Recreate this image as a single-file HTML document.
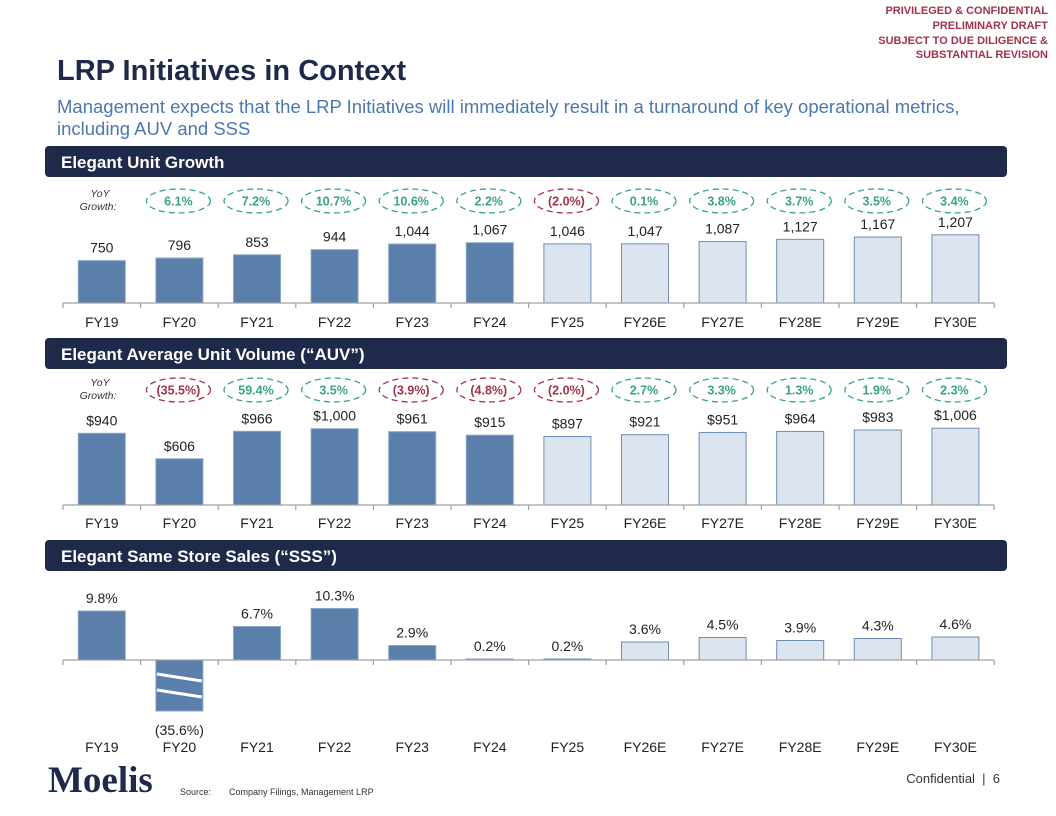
<!DOCTYPE html>
<html><head><meta charset="utf-8"><style>
body{margin:0;width:1056px;height:816px;background:#fff;overflow:hidden;font-family:"Liberation Sans",sans-serif}
svg{display:block}
</style></head><body>
<svg id="s" width="1056" height="816" xmlns="http://www.w3.org/2000/svg" font-family="Liberation Sans, sans-serif">
<g fill="#a2334a" font-size="11" font-weight="bold" text-anchor="end">
<text x="1048" y="14">PRIVILEGED &amp; CONFIDENTIAL</text>
<text x="1048" y="29">PRELIMINARY DRAFT</text>
<text x="1048" y="44">SUBJECT TO DUE DILIGENCE &amp;</text>
<text x="1048" y="58">SUBSTANTIAL REVISION</text>
</g>
<text x="57" y="80" font-size="29" font-weight="bold" fill="#1f2a4a">LRP Initiatives in Context</text>
<g fill="#4a78b0" font-size="18.5">
<text x="57" y="113">Management expects that the LRP Initiatives will immediately result in a turnaround of key operational metrics,</text>
<text x="57" y="135">including AUV and SSS</text>
</g>
<g id="charts"></g>
<text x="48" y="792" font-family="Liberation Serif, serif" font-size="37" font-weight="bold" fill="#1f2a4a">Moelis</text>
<text x="180" y="795" font-size="9" fill="#333">Source:</text>
<text x="229" y="795" font-size="9" fill="#333">Company Filings, Management LRP</text>
<text x="1000" y="783" font-size="13" fill="#333" text-anchor="end" xml:space="preserve">Confidential  |  6</text>
</svg>
<script>
const categories=["FY19","FY20","FY21","FY22","FY23","FY24","FY25","FY26E","FY27E","FY28E","FY29E","FY30E"];
const unitValues=[750,796,853,944,1044,1067,1046,1047,1087,1127,1167,1207];
const unitGrowth=[6.1,7.2,10.7,10.6,2.2,-2.0,0.1,3.8,3.7,3.5,3.4];
const auvValues=[940,606,966,1000,961,915,897,921,951,964,983,1006];
const auvGrowth=[-35.5,59.4,3.5,-3.9,-4.8,-2.0,2.7,3.3,1.3,1.9,2.3];
const sssValues=[9.8,-35.6,6.7,10.3,2.9,0.2,0.2,3.6,4.5,3.9,4.3,4.6];
const actualCount=6;
const NS="http://www.w3.org/2000/svg";
const root=document.getElementById('charts');
function mk(tag,attrs,parent,text){const e=document.createElementNS(NS,tag);for(const k in attrs)e.setAttribute(k,attrs[k]);if(text!==undefined)e.textContent=text;(parent||root).appendChild(e);return e;}
const x0=63,step=77.6,bw=47;
const xc=i=>x0+step*(i+0.5);
function header(y,label,name){
  const g=mk('g',{});
  
  
  mk('rect',{x:45,y:y,width:962,height:31,rx:4,fill:'#1f2a4a'},g);
  mk('text',{x:61,y:y+22,'font-size':17,'font-weight':'bold',fill:'#fff'},g,label);
}
function growthRow(cy,vals,name){
  const g=mk('g',{});
  
  
  mk('text',{x:100,y:cy-4,'font-size':10.5,'font-style':'italic',fill:'#333','text-anchor':'middle'},g,'YoY');
  mk('text',{x:98,y:cy+9,'font-size':10.5,'font-style':'italic',fill:'#333','text-anchor':'middle'},g,'Growth:');
  vals.forEach((v,i)=>{
    const cx=xc(i+1)-1, col=v<0?'#a2334a':'#3aa57a';
    mk('ellipse',{cx:cx,cy:cy,rx:32,ry:12,fill:'none',stroke:col,'stroke-width':1.3,'stroke-dasharray':'6 4'},g);
    const t=v<0?'('+Math.abs(v).toFixed(1)+'%)':v.toFixed(1)+'%';
    mk('text',{x:cx,y:cy+4.5,'font-size':12.5,'font-weight':'bold',fill:col,'text-anchor':'middle'},g,t);
  });
}
function axis(y,ly,name){
  const g=mk('g',{});
  
  
  mk('line',{x1:x0,y1:y,x2:x0+step*12,y2:y,stroke:'#a0a0a0','stroke-width':1.2},g);
  for(let i=0;i<=12;i++)mk('line',{x1:x0+step*i,y1:y,x2:x0+step*i,y2:y+5,stroke:'#a0a0a0','stroke-width':1.2},g);
  categories.forEach((c,i)=>{
    const t=mk('text',{x:xc(i),y:ly,'font-size':14,fill:'#222','text-anchor':'middle'},g,c);
    
    
  });
}
function bars(vals,base,k,fmt,name,clipNeg){
  const g=mk('g',{});
  
  
  vals.forEach((v,i)=>{
    const act=i<actualCount;
    let h=v*k; let neg=h<0; let hh=Math.abs(h);
    if(neg&&clipNeg&&hh>clipNeg)hh=clipNeg;
    const y=neg?base:base-hh;
    const r=mk('rect',{x:xc(i)-bw/2,y:y,width:bw,height:Math.max(hh,0.8),fill:act?'#5b7fab':'#dce5ef',stroke:act?'#8aa6c8':'#6d8db5','stroke-width':1},g);
    
    
    if(neg&&clipNeg){
      mk('line',{x1:xc(i)-bw/2+1,y1:y+14,x2:xc(i)+bw/2-1,y2:y+21,stroke:'#fff','stroke-width':3},g);
      mk('line',{x1:xc(i)-bw/2+1,y1:y+30,x2:xc(i)+bw/2-1,y2:y+37,stroke:'#fff','stroke-width':3},g);
    }
    const ly=neg?y+hh+24:y-8;
    const t=mk('text',{x:xc(i),y:ly,'font-size':14,fill:'#222','text-anchor':'middle'},g,fmt(v));
    
    
  });
}
header(146,'Elegant Unit Growth','unit-growth-header');
growthRow(201,unitGrowth,'unit-yoy-growth');
bars(unitValues,303,0.0565,v=>v.toLocaleString('en-US'),'unit-bars');
axis(303,327,'unit-x-axis');
header(338,'Elegant Average Unit Volume (\u201CAUV\u201D)','auv-header');
growthRow(390,auvGrowth,'auv-yoy-growth');
bars(auvValues,505,0.0763,v=>'$'+v.toLocaleString('en-US'),'auv-bars');
axis(505,528,'auv-x-axis');
header(540,'Elegant Same Store Sales (\u201CSSS\u201D)','sss-header');
bars(sssValues,660,5.0,v=>v<0?'('+Math.abs(v).toFixed(1)+'%)':v.toFixed(1)+'%','sss-bars',51);
axis(660,752,'sss-x-axis');
</script>
</body></html>
